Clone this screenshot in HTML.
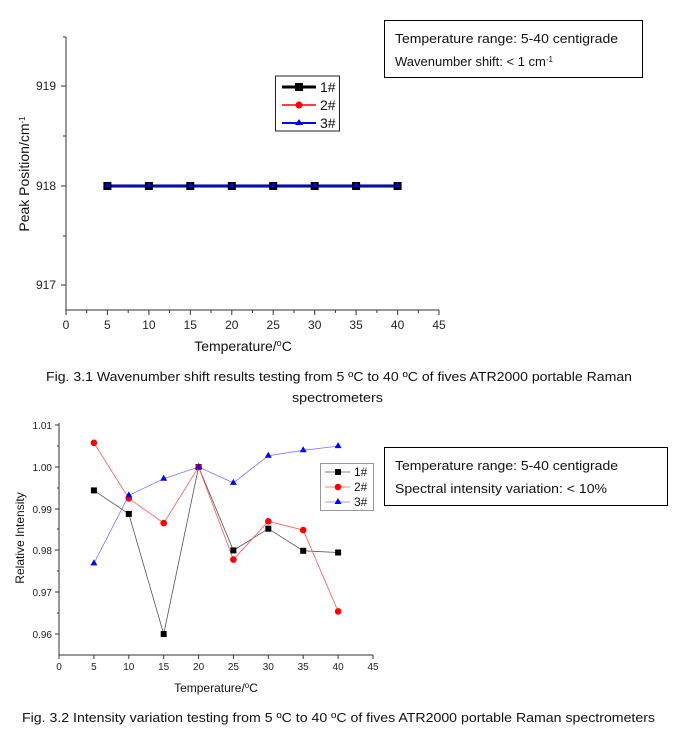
<!DOCTYPE html>
<html><head><meta charset="utf-8"><style>
body{margin:0;background:#fff;width:676px;height:742px;overflow:hidden}
svg{display:block}
</style></head><body>
<svg width="676" height="742" xmlns="http://www.w3.org/2000/svg" font-family="Liberation Sans, Arial, sans-serif">
<!-- Chart 1 -->
<g stroke="#333" stroke-width="1" fill="none">
<line x1="66" y1="37" x2="66" y2="310"/>
<line x1="66" y1="310" x2="439" y2="310"/>
<line x1="61" y1="86" x2="66" y2="86"/><line x1="61" y1="186" x2="66" y2="186"/><line x1="61" y1="285" x2="66" y2="285"/>
<line x1="63" y1="136" x2="66" y2="136"/><line x1="63" y1="236" x2="66" y2="236"/>
<line x1="63" y1="37" x2="66" y2="37"/>
</g>
<g stroke="#333" stroke-width="1">
<line x1="66" y1="310" x2="66" y2="315"/><line x1="107.4" y1="310" x2="107.4" y2="315"/><line x1="148.9" y1="310" x2="148.9" y2="315"/><line x1="190.3" y1="310" x2="190.3" y2="315"/><line x1="231.8" y1="310" x2="231.8" y2="315"/><line x1="273.2" y1="310" x2="273.2" y2="315"/><line x1="314.7" y1="310" x2="314.7" y2="315"/><line x1="356.1" y1="310" x2="356.1" y2="315"/><line x1="397.6" y1="310" x2="397.6" y2="315"/><line x1="439" y1="310" x2="439" y2="315"/>
<line x1="86.7" y1="310" x2="86.7" y2="313"/><line x1="128.2" y1="310" x2="128.2" y2="313"/><line x1="169.6" y1="310" x2="169.6" y2="313"/><line x1="211" y1="310" x2="211" y2="313"/><line x1="252.5" y1="310" x2="252.5" y2="313"/><line x1="294" y1="310" x2="294" y2="313"/><line x1="335.4" y1="310" x2="335.4" y2="313"/><line x1="376.9" y1="310" x2="376.9" y2="313"/><line x1="418.3" y1="310" x2="418.3" y2="313"/>
</g>
<g font-size="12" fill="#222" text-anchor="end">
<text x="56" y="90">919</text><text x="56" y="190">918</text><text x="56" y="289">917</text>
</g>
<g font-size="12" fill="#222" text-anchor="middle">
<text x="66" y="329">0</text><text x="107.4" y="329">5</text><text x="148.9" y="329">10</text><text x="190.3" y="329">15</text><text x="231.8" y="329">20</text><text x="273.2" y="329">25</text><text x="314.7" y="329">30</text><text x="356.1" y="329">35</text><text x="397.6" y="329">40</text><text x="439" y="329">45</text>
</g>
<text x="243" y="351" font-size="14" text-anchor="middle" fill="#111">Temperature/<tspan baseline-shift="super" font-size="9">o</tspan>C</text>
<text transform="translate(29,174) rotate(-90)" font-size="14" text-anchor="middle" fill="#111">Peak Position/cm<tspan baseline-shift="super" font-size="8">-1</tspan></text>
<line x1="107.4" y1="186" x2="397.6" y2="186" stroke="#000" stroke-width="3"/>
<line x1="107.4" y1="186" x2="397.6" y2="186" stroke="#00f" stroke-width="2"/>
<g fill="#000">
<rect x="103.4" y="182" width="8" height="8"/><rect x="144.9" y="182" width="8" height="8"/><rect x="186.3" y="182" width="8" height="8"/><rect x="227.8" y="182" width="8" height="8"/><rect x="269.2" y="182" width="8" height="8"/><rect x="310.7" y="182" width="8" height="8"/><rect x="352.1" y="182" width="8" height="8"/><rect x="393.6" y="182" width="8" height="8"/>
</g>
<g fill="#00f">
<path d="M107.4 182l3 5h-6z"/><path d="M148.9 182l3 5h-6z"/><path d="M190.3 182l3 5h-6z"/><path d="M231.8 182l3 5h-6z"/><path d="M273.2 182l3 5h-6z"/><path d="M314.7 182l3 5h-6z"/><path d="M356.1 182l3 5h-6z"/><path d="M397.6 182l3 5h-6z"/>
</g>
<rect x="275.5" y="76" width="64" height="55" fill="#fff" stroke="#222"/>
<line x1="282" y1="87" x2="316" y2="87" stroke="#000" stroke-width="3"/><rect x="295" y="83" width="8" height="8"/>
<line x1="282" y1="105" x2="316" y2="105" stroke="#f00" stroke-width="1.5"/><circle cx="299" cy="105" r="3.5" fill="#f00"/>
<line x1="282" y1="123" x2="316" y2="123" stroke="#00f" stroke-width="2"/><path d="M299 119l4 6h-8z" fill="#00f"/>
<g font-size="14" fill="#111"><text x="320" y="92">1#</text><text x="320" y="110">2#</text><text x="320" y="128">3#</text></g>
<rect x="384.5" y="20.5" width="258" height="57" fill="#fff" stroke="#000"/>
<g font-size="13" fill="#111"><text x="395" y="43" textLength="223" lengthAdjust="spacingAndGlyphs">Temperature range: 5-40 centigrade</text><text x="395" y="66">Wavenumber shift: &lt; 1 cm<tspan baseline-shift="super" font-size="8">-1</tspan></text></g>
<g font-size="13" fill="#111"><text x="46" y="381" textLength="586" lengthAdjust="spacingAndGlyphs">Fig. 3.1 Wavenumber shift results testing from 5 ºC to 40 ºC of fives ATR2000 portable Raman</text><text x="292" y="402" textLength="91" lengthAdjust="spacingAndGlyphs">spectrometers</text></g>

<!-- Chart 2 -->
<g stroke="#333" stroke-width="1" fill="none">
<line x1="59" y1="423" x2="59" y2="655"/><line x1="59" y1="655" x2="373" y2="655"/>
</g>
<g stroke="#333" stroke-width="1">
<line x1="55" y1="425" x2="59" y2="425"/><line x1="55" y1="467" x2="59" y2="467"/><line x1="55" y1="509" x2="59" y2="509"/><line x1="55" y1="550" x2="59" y2="550"/><line x1="55" y1="592" x2="59" y2="592"/><line x1="55" y1="634" x2="59" y2="634"/>
<line x1="57" y1="446" x2="59" y2="446"/><line x1="57" y1="488" x2="59" y2="488"/><line x1="57" y1="529" x2="59" y2="529"/><line x1="57" y1="571" x2="59" y2="571"/><line x1="57" y1="613" x2="59" y2="613"/>
<line x1="59" y1="655" x2="59" y2="659"/><line x1="93.9" y1="655" x2="93.9" y2="659"/><line x1="128.8" y1="655" x2="128.8" y2="659"/><line x1="163.7" y1="655" x2="163.7" y2="659"/><line x1="198.6" y1="655" x2="198.6" y2="659"/><line x1="233.4" y1="655" x2="233.4" y2="659"/><line x1="268.3" y1="655" x2="268.3" y2="659"/><line x1="303.2" y1="655" x2="303.2" y2="659"/><line x1="338.1" y1="655" x2="338.1" y2="659"/><line x1="373" y1="655" x2="373" y2="659"/>
</g>
<g font-size="10" fill="#222" text-anchor="end">
<text x="52" y="429">1.01</text><text x="52" y="471">1.00</text><text x="52" y="513">0.99</text><text x="52" y="554">0.98</text><text x="52" y="596">0.97</text><text x="52" y="638">0.96</text>
</g>
<g font-size="10" fill="#222" text-anchor="middle">
<text x="59" y="670">0</text><text x="93.9" y="670">5</text><text x="128.8" y="670">10</text><text x="163.7" y="670">15</text><text x="198.6" y="670">20</text><text x="233.4" y="670">25</text><text x="268.3" y="670">30</text><text x="303.2" y="670">35</text><text x="338.1" y="670">40</text><text x="373" y="670">45</text>
</g>
<text x="216" y="692" font-size="12" text-anchor="middle" fill="#111">Temperature/<tspan baseline-shift="super" font-size="8">o</tspan>C</text>
<text transform="translate(24,538) rotate(-90)" font-size="12" text-anchor="middle" fill="#111">Relative Intensity</text>
<polyline fill="none" stroke="#555" stroke-width="0.8" points="93.9,490.4 128.8,513.9 163.7,634 198.6,467 233.4,550.4 268.3,528.7 303.2,550.8 338.1,552.5"/>
<polyline fill="none" stroke="#f55" stroke-width="0.8" points="93.9,442.8 128.8,498.4 163.7,523.1 198.6,467 233.4,559.6 268.3,521.3 303.2,530.1 338.1,611.4"/>
<polyline fill="none" stroke="#77f" stroke-width="0.8" points="93.9,563.4 128.8,495.4 163.7,478.7 198.6,467 233.4,482.9 268.3,455.7 303.2,450.3 338.1,446.1"/>
<g fill="#000"><rect x="90.9" y="487.4" width="6" height="6"/><rect x="125.8" y="510.9" width="6" height="6"/><rect x="160.7" y="631" width="6" height="6"/><rect x="195.6" y="464" width="6" height="6"/><rect x="230.4" y="547.4" width="6" height="6"/><rect x="265.3" y="525.7" width="6" height="6"/><rect x="300.2" y="547.8" width="6" height="6"/><rect x="335.1" y="549.5" width="6" height="6"/></g>
<g fill="#f00"><circle cx="93.9" cy="442.8" r="3.3"/><circle cx="128.8" cy="498.4" r="3.3"/><circle cx="163.7" cy="523.1" r="3.3"/><circle cx="198.6" cy="467" r="3.3"/><circle cx="233.4" cy="559.6" r="3.3"/><circle cx="268.3" cy="521.3" r="3.3"/><circle cx="303.2" cy="530.1" r="3.3"/><circle cx="338.1" cy="611.4" r="3.3"/></g>
<g fill="#00f"><path d="M93.9 559.4l3.5 6h-7z"/><path d="M128.8 491.4l3.5 6h-7z"/><path d="M163.7 474.7l3.5 6h-7z"/><path d="M198.6 463l3.5 6h-7z"/><path d="M233.4 478.9l3.5 6h-7z"/><path d="M268.3 451.7l3.5 6h-7z"/><path d="M303.2 446.3l3.5 6h-7z"/><path d="M338.1 442.1l3.5 6h-7z"/></g>
<rect x="320.5" y="463.5" width="53" height="47" fill="#fff" stroke="#999"/>
<line x1="325" y1="472" x2="350" y2="472" stroke="#555" stroke-width="0.8"/><rect x="335" y="469" width="6" height="6"/>
<line x1="325" y1="487" x2="350" y2="487" stroke="#f55" stroke-width="0.8"/><circle cx="338" cy="487" r="3.3" fill="#f00"/>
<line x1="325" y1="502" x2="350" y2="502" stroke="#77f" stroke-width="0.8"/><path d="M338 498l3.5 6h-7z" fill="#00f"/>
<g font-size="12" fill="#111"><text x="354" y="476">1#</text><text x="354" y="491">2#</text><text x="354" y="506">3#</text></g>
<rect x="384.5" y="447.5" width="283" height="58" fill="#fff" stroke="#000"/>
<g font-size="13" fill="#111"><text x="395" y="470" textLength="223" lengthAdjust="spacingAndGlyphs">Temperature range: 5-40 centigrade</text><text x="395" y="493" textLength="212" lengthAdjust="spacingAndGlyphs">Spectral intensity variation: &lt; 10%</text></g>
<text x="22" y="722" font-size="13" fill="#111" textLength="633" lengthAdjust="spacingAndGlyphs">Fig. 3.2 Intensity variation testing from 5 ºC to 40 ºC of fives ATR2000 portable Raman spectrometers</text>
</svg>
</body></html>
